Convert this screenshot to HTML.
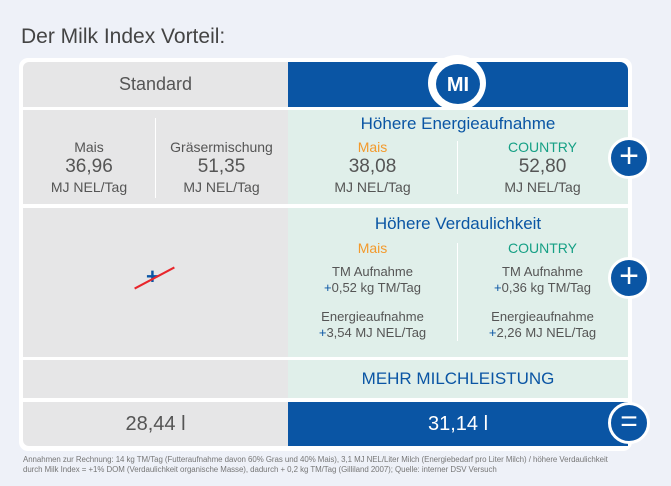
<!DOCTYPE html><html><head><style>
body{margin:0;width:671px;height:486px;background:#eef1f8;font-family:"Liberation Sans",sans-serif;position:relative;overflow:hidden}
div{position:absolute;box-sizing:border-box}
.t{text-align:center;white-space:nowrap}
.g{background:#e6e6e7}.m{background:#e0efea}
.c{width:42px;height:42px;border-radius:50%;background:#0a55a4;border:3px solid #fff;color:#fff;font-size:34px;line-height:34px;text-align:center}
.gr{color:#555}.bl{color:#0a55a4}.or{color:#f39a2c}.gn{color:#16a085}
.s{font-size:13px;color:#555}
</style></head><body>
<div style="left:21px;top:25px;font-size:21px;color:#444">Der Milk Index Vorteil:</div>
<div style="left:19px;top:58px;width:613px;height:393px;background:#fff;border-radius:9px"></div>
<div class="g t gr" style="left:23px;top:62px;width:265px;height:45px;border-top-left-radius:6px;font-size:18px;line-height:45px">Standard</div>
<div style="left:288px;top:62px;width:340px;height:45px;background:#0a55a4;border-top-right-radius:8px"></div>
<div style="left:428px;top:55px;width:58px;height:56px;border-radius:50%;background:#fff"></div>
<div class="t" style="left:436px;top:64px;width:44px;height:40px;border-radius:50%;background:#0a55a4;color:#fff;font-weight:bold;font-size:20px;line-height:42px">MI</div>
<div class="g" style="left:23px;top:110px;width:265px;height:94px"></div>
<div class="m" style="left:288px;top:110px;width:340px;height:94px"></div>
<div style="left:155px;top:118px;width:1px;height:80px;background:#fff"></div>
<div style="left:457px;top:141px;width:1px;height:53px;background:#fff"></div>
<div class="t gr" style="left:23px;top:139px;width:132px;font-size:14px;line-height:16px">Mais<br><span style="font-size:19px;line-height:24px">36,96</span><br>MJ NEL/Tag</div>
<div class="t gr" style="left:155px;top:139px;width:133px;font-size:14px;line-height:16px">Gräsermischung<br><span style="font-size:19px;line-height:24px">51,35</span><br>MJ NEL/Tag</div>
<div class="t bl" style="left:288px;top:114px;width:340px;font-size:17px">Höhere Energieaufnahme</div>
<div class="t gr" style="left:288px;top:139px;width:169px;font-size:14px;line-height:16px"><span class="or">Mais</span><br><span style="font-size:19px;line-height:24px">38,08</span><br>MJ NEL/Tag</div>
<div class="t gr" style="left:457px;top:139px;width:171px;font-size:14px;line-height:16px"><span class="gn">COUNTRY</span><br><span style="font-size:19px;line-height:24px">52,80</span><br>MJ NEL/Tag</div>
<div class="g" style="left:23px;top:208px;width:265px;height:149px"></div>
<div class="m" style="left:288px;top:208px;width:340px;height:149px"></div>
<div style="left:457px;top:243px;width:1px;height:98px;background:#fff"></div>
<div class="t bl" style="left:288px;top:214px;width:340px;font-size:17px">Höhere Verdaulichkeit</div>
<div class="t or" style="left:288px;top:240px;width:169px;font-size:14px">Mais</div>
<div class="t gn" style="left:457px;top:240px;width:171px;font-size:14px">COUNTRY</div>
<div class="t s" style="left:288px;top:264px;width:169px">TM Aufnahme</div>
<div class="t s" style="left:288px;top:280px;width:169px"><span class="bl">+</span>0,52 kg TM/Tag</div>
<div class="t s" style="left:288px;top:309px;width:169px">Energieaufnahme</div>
<div class="t s" style="left:288px;top:325px;width:169px"><span class="bl">+</span>3,54 MJ NEL/Tag</div>
<div class="t s" style="left:457px;top:264px;width:171px">TM Aufnahme</div>
<div class="t s" style="left:457px;top:280px;width:171px"><span class="bl">+</span>0,36 kg TM/Tag</div>
<div class="t s" style="left:457px;top:309px;width:171px">Energieaufnahme</div>
<div class="t s" style="left:457px;top:325px;width:171px"><span class="bl">+</span>2,26 MJ NEL/Tag</div>
<div class="bl" style="left:146px;top:266px;font-size:22px;font-weight:bold;line-height:22px">+</div>
<div style="left:132px;top:277px;width:45px;height:2px;background:#e8262c;transform:rotate(-28deg)"></div>
<div class="g" style="left:23px;top:360px;width:265px;height:38px"></div>
<div class="m t bl" style="left:288px;top:360px;width:340px;height:38px;font-size:17px;line-height:38px">MEHR MILCHLEISTUNG</div>
<div class="g t gr" style="left:23px;top:402px;width:265px;height:44px;border-bottom-left-radius:6px;font-size:20px;line-height:44px">28,44 l</div>
<div class="t" style="left:288px;top:402px;width:340px;height:44px;background:#0a55a4;color:#fff;font-size:20px;line-height:44px">31,14 l</div>
<div class="c" style="left:608px;top:137px;line-height:32px">+</div>
<div class="c" style="left:608px;top:257px;line-height:32px">+</div>
<div class="c" style="left:608px;top:402px;font-size:30px">=</div>
<div style="left:23px;top:455px;font-size:7.9px;line-height:10px;color:#777;white-space:nowrap;letter-spacing:-0.05px">Annahmen zur Rechnung: 14 kg TM/Tag (Futteraufnahme davon 60% Gras und 40% Mais), 3,1 MJ NEL/Liter Milch (Energiebedarf pro Liter Milch) / höhere Verdaulichkeit<br>durch Milk Index = +1% DOM (Verdaulichkeit organische Masse), dadurch + 0,2 kg TM/Tag (Gilliland 2007); Quelle: interner DSV Versuch</div>
</body></html>
